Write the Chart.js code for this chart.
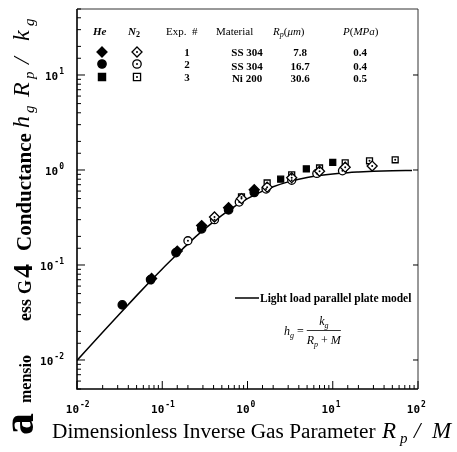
<!DOCTYPE html>
<html>
<head>
<meta charset="utf-8">
<script src="https://cdn.jsdelivr.net/npm/chart.js@4.4.1/dist/chart.umd.min.js"></script>
<style>
  html, body { margin: 0; padding: 0; background: #fff; }
  #wrap { width: 457px; height: 452px; }
</style>
</head>
<body>
<div id="wrap"><canvas id="gapChart" width="457" height="452"></canvas></div>
<script>
// Experimental points (x = Rp/M, y = hg Rp/kg)
const he1X = [0.075, 0.15, 0.29, 0.6, 1.2];
const he1Y = [0.072, 0.14, 0.26, 0.40, 0.62];
const he2X = [0.034, 0.073, 0.145, 0.29, 0.6, 1.2];
const he2Y = [0.038, 0.070, 0.135, 0.24, 0.38, 0.58];
const he3X = [2.45, 4.9, 10];
const he3Y = [0.80, 1.03, 1.20];
const n1X = [0.41, 0.85, 1.7, 3.3, 7, 14, 29];
const n1Y = [0.32, 0.50, 0.66, 0.83, 0.97, 1.07, 1.10];
const n2X = [0.2, 0.41, 0.8, 1.65, 3.3, 6.5, 13];
const n2Y = [0.18, 0.30, 0.46, 0.63, 0.78, 0.92, 0.98];
const n3X = [0.85, 1.7, 3.3, 7, 14, 27, 54];
const n3Y = [0.52, 0.73, 0.89, 1.05, 1.19, 1.25, 1.28];

// Light load parallel plate model
const modelX = [0.01, 0.02, 0.03, 0.05, 0.07, 0.1, 0.15, 0.2, 0.3, 0.5, 0.7, 1, 1.5, 2, 3, 5, 7, 10, 15, 20, 30, 50, 85];
const modelY = [0.0099, 0.0196, 0.0291, 0.0476, 0.0654, 0.0909, 0.130, 0.167, 0.231, 0.333, 0.412, 0.500, 0.600, 0.667, 0.750, 0.833, 0.875, 0.909, 0.938, 0.952, 0.968, 0.980, 0.988];

// decade tick labels: base and exponent
const xTickValues = [0.01, 0.1, 1, 10, 100];
const xTickExp = ['-2', '-1', '0', '1', '2'];
const yTickValues = [0.01, 0.1, 1, 10];
const yTickExp = ['-2', '-1', '0', '1'];

const SERIF = '"Liberation Serif", "DejaVu Serif", serif';
const MONO = '"DejaVu Sans Mono", monospace';

const pts = (xs, ys) => xs.map((x, i) => ({ x: x, y: ys[i] }));
const isDecade = v => Math.abs(Math.log10(v) - Math.round(Math.log10(v))) < 1e-6;

// Draws a run of [text, size, style, shift] pieces along a baseline
function drawRuns(ctx, runs, x, y) {
    runs.forEach(r => {
        ctx.font = (r[2] || '') + ' ' + r[1] + 'px ' + SERIF;
        ctx.fillText(r[0], x, y + (r[3] || 0));
        x += ctx.measureText(r[0]).width;
    });
    return x;
}

function runsWidth(ctx, runs) {
    let w = 0;
    runs.forEach(r => {
        ctx.font = (r[2] || '') + ' ' + r[1] + 'px ' + SERIF;
        w += ctx.measureText(r[0]).width;
    });
    return w;
}

function marker(ctx, style, x, y, r, filled) {
    ctx.save();
    ctx.beginPath();
    if (style === 'rectRot') {
        ctx.moveTo(x, y - r); ctx.lineTo(x + r, y); ctx.lineTo(x, y + r); ctx.lineTo(x - r, y);
        ctx.closePath();
    } else if (style === 'rect') {
        ctx.rect(x - r * 0.85, y - r * 0.85, r * 1.7, r * 1.7);
    } else {
        ctx.arc(x, y, r, 0, Math.PI * 2);
    }
    ctx.fillStyle = filled ? '#000' : '#fff';
    ctx.fill();
    ctx.lineWidth = 1.3;
    ctx.strokeStyle = '#000';
    ctx.stroke();
    if (!filled) {
        ctx.beginPath();
        ctx.arc(x, y, 1, 0, Math.PI * 2);
        ctx.fillStyle = '#000';
        ctx.fill();
    }
    ctx.restore();
}

// "10" with a raised exponent
function powerLabel(ctx, exp, x, y, align) {
    ctx.font = 'bold 11px ' + MONO;
    const bw = ctx.measureText('10').width;
    ctx.font = 'bold 8px ' + MONO;
    const ew = ctx.measureText(exp).width;
    let left = align === 'right' ? x - bw - ew - 1 : x - bw + 2;
    ctx.font = 'bold 11px ' + MONO;
    ctx.fillText('10', left, y);
    ctx.font = 'bold 8px ' + MONO;
    ctx.fillText(exp, left + bw + 1, y - 6);
}

const frameAndText = {
    id: 'frameAndText',
    afterDatasetsDraw(chart) {
        const ctx = chart.ctx;
        const a = chart.chartArea;
        const xs = chart.scales.x, ys = chart.scales.y;

        // dots inside the open (N2) markers
        chart.data.datasets.forEach((ds, i) => {
            if (!ds.dotted) return;
            chart.getDatasetMeta(i).data.forEach(el => {
                ctx.beginPath();
                ctx.arc(el.x, el.y, 1, 0, Math.PI * 2);
                ctx.fillStyle = '#000';
                ctx.fill();
            });
        });

        ctx.save();
        // frame
        ctx.strokeStyle = '#000';
        ctx.lineWidth = 1.6;
        ctx.beginPath();
        ctx.moveTo(a.left, a.top); ctx.lineTo(a.left, a.bottom); ctx.lineTo(a.right, a.bottom);
        ctx.stroke();
        ctx.lineWidth = 1;
        ctx.strokeStyle = '#333';
        ctx.beginPath();
        ctx.moveTo(a.left, a.top); ctx.lineTo(a.right, a.top); ctx.lineTo(a.right, a.bottom);
        ctx.stroke();

        // inward ticks
        ctx.strokeStyle = '#000';
        ctx.lineWidth = 1;
        xs.ticks.forEach(t => {
            const px = xs.getPixelForValue(t.value);
            if (px < a.left - 0.5 || px > a.right + 0.5) return;
            const major = isDecade(t.value);
            ctx.beginPath();
            ctx.moveTo(px, a.bottom); ctx.lineTo(px, a.bottom - (major ? 8 : 4));
            ctx.stroke();
        });
        ys.ticks.forEach(t => {
            const py = ys.getPixelForValue(t.value);
            if (py < a.top - 0.5 || py > a.bottom + 0.5) return;
            const major = isDecade(t.value);
            ctx.beginPath();
            ctx.moveTo(a.left, py); ctx.lineTo(a.left + (major ? 8 : 4), py);
            ctx.stroke();
            if (major) {
                ctx.beginPath();
                ctx.moveTo(a.right, py); ctx.lineTo(a.right - 5, py);
                ctx.stroke();
            }
        });

        ctx.fillStyle = '#000';
        ctx.textBaseline = 'alphabetic';
        ctx.textAlign = 'left';

        // decade labels
        xTickValues.forEach((v, i) => powerLabel(ctx, xTickExp[i], xs.getPixelForValue(v), 413, 'center'));
        yTickValues.forEach((v, i) => powerLabel(ctx, yTickExp[i], 64, ys.getPixelForValue(v) + 5, 'right'));

        // legend table
        const hdrY = 35;
        drawRuns(ctx, [['He', 11, 'italic bold']], 93, hdrY);
        drawRuns(ctx, [['N', 11, 'italic bold'], ['2', 8, 'bold', 2]], 128, hdrY);
        drawRuns(ctx, [['Exp.  #', 11, '']], 166, hdrY);
        drawRuns(ctx, [['Material', 11, '']], 216, hdrY);
        drawRuns(ctx, [['R', 11, 'italic'], ['p', 8, 'italic', 2], ['(', 11, ''], ['μm', 11, 'italic'], [')', 11, '']], 273, hdrY);
        drawRuns(ctx, [['P', 11, 'italic'], ['(', 11, ''], ['MPa', 11, 'italic'], [')', 11, '']], 343, hdrY);

        const rows = [
            { style: 'rectRot', sy: 52, ty: 56, exp: '1', mat: 'SS 304', rp: '7.8', p: '0.4' },
            { style: 'circle', sy: 64, ty: 70, exp: '2', mat: 'SS 304', rp: '16.7', p: '0.4' },
            { style: 'rect', sy: 77, ty: 82, exp: '3', mat: 'Ni 200', rp: '30.6', p: '0.5' }
        ];
        rows.forEach(r => {
            marker(ctx, r.style, 102, r.sy, r.style === 'rectRot' ? 5 : 4.2, true);
            marker(ctx, r.style, 137, r.sy, r.style === 'rectRot' ? 5 : 4.2, false);
            ctx.font = 'bold 11px ' + SERIF;
            ctx.textAlign = 'center';
            ctx.fillText(r.exp, 187, r.sy + 4);
            ctx.fillText(r.mat, 247, r.ty);
            ctx.fillText(r.rp, 300, r.ty);
            ctx.fillText(r.p, 360, r.ty);
        });

        // model key
        ctx.lineWidth = 1.5;
        ctx.beginPath();
        ctx.moveTo(235, 298); ctx.lineTo(259, 298);
        ctx.stroke();
        ctx.textAlign = 'left';
        ctx.font = 'bold 11.5px ' + SERIF;
        ctx.fillText('Light load parallel plate model', 260, 302);

        // h_g = k_g / (R_p + M)
        const fx = drawRuns(ctx, [['h', 12, 'italic'], ['g', 8, 'italic', 3], [' = ', 12, '']], 284, 335);
        const den = [['R', 12, 'italic'], ['p', 8, 'italic', 3], [' + ', 12, ''], ['M', 12, 'italic']];
        const num = [['k', 12, 'italic'], ['g', 8, 'italic', 3]];
        const dw = runsWidth(ctx, den), nw = runsWidth(ctx, num);
        drawRuns(ctx, num, fx + (dw - nw) / 2, 325);
        ctx.lineWidth = 0.8;
        ctx.beginPath();
        ctx.moveTo(fx, 330.5); ctx.lineTo(fx + dw, 330.5);
        ctx.stroke();
        drawRuns(ctx, den, fx, 344);

        // x axis title
        drawRuns(ctx, [['Dimensionless Inverse Gas Parameter', 21.3, '']], 52, 438);
        [['R', 382, 23, 0], ['p', 400, 15, 5], ['/', 414, 23, 0], ['M', 432, 23, 0]].forEach(p => {
            ctx.font = 'italic ' + p[2] + 'px ' + SERIF;
            ctx.fillText(p[0], p[1], 438 + p[3]);
        });

        // y axis title, rotated; each piece placed by its lower screen y
        ctx.save();
        ctx.translate(32, 0);
        ctx.rotate(-Math.PI / 2);
        const yPieces = [
            ['a', 435, 44, 'bold', 1],
            ['mensio', 403, 16, 'bold', -1],
            ['ess', 321, 18, 'bold', -1],
            ['G', 294, 18, 'bold', -1],
            ['4', 278, 28, 'bold', 0],
            ['Conductance', 251, 21, 'bold', -1],
            ['h', 128, 24, 'italic', -3],
            ['g', 113, 15, 'italic', 2],
            ['R', 97, 24, 'italic', -3],
            ['p', 79, 15, 'italic', 2],
            ['/', 64, 24, 'italic', -3],
            ['k', 41, 24, 'italic', -3],
            ['g', 26, 15, 'italic', 2]
        ];
        yPieces.forEach(p => {
            ctx.font = p[3] + ' ' + p[2] + 'px ' + SERIF;
            ctx.fillText(p[0], -p[1], p[4]);
        });
        ctx.restore();

        ctx.restore();
    }
};

const pointSet = (label, xs, ys, style, filled, radius) => ({
    label: label,
    type: 'scatter',
    data: pts(xs, ys),
    pointStyle: style,
    pointRadius: radius,
    pointBorderWidth: 1.3,
    pointBackgroundColor: filled ? '#000' : '#fff',
    pointBorderColor: '#000',
    dotted: !filled,
    showLine: false
});

new Chart(document.getElementById('gapChart'), {
    type: 'scatter',
    data: {
        datasets: [
            pointSet('He 1', he1X, he1Y, 'rectRot', true, 5),
            pointSet('He 2', he2X, he2Y, 'circle', true, 4.2),
            pointSet('He 3', he3X, he3Y, 'rect', true, 4.2),
            pointSet('N2 1', n1X, n1Y, 'rectRot', false, 5),
            pointSet('N2 2', n2X, n2Y, 'circle', false, 4),
            pointSet('N2 3', n3X, n3Y, 'rect', false, 4.2),
            {
                label: 'Light load parallel plate model',
                type: 'line',
                data: pts(modelX, modelY),
                borderColor: '#000',
                borderWidth: 1.5,
                pointRadius: 0,
                cubicInterpolationMode: 'monotone',
                fill: false
            }
        ]
    },
    options: {
        responsive: false,
        animation: false,
        devicePixelRatio: 1,
        layout: { padding: { top: 9, right: 39, left: 0, bottom: 0 } },
        plugins: {
            legend: { display: false },
            tooltip: { enabled: false }
        },
        scales: {
            x: {
                type: 'logarithmic',
                position: 'bottom',
                min: 0.01,
                max: 100,
                grid: { display: false },
                border: { display: false },
                ticks: { display: false },
                afterFit: s => { s.height = 63; s.paddingLeft = 0; s.paddingRight = 0; }
            },
            y: {
                type: 'logarithmic',
                min: 0.00495,
                max: 49.5,
                grid: { display: false },
                border: { display: false },
                ticks: { display: false },
                afterFit: s => { s.width = 77; s.paddingTop = 0; s.paddingBottom = 0; }
            }
        }
    },
    plugins: [frameAndText]
});
</script>
</body>
</html>
